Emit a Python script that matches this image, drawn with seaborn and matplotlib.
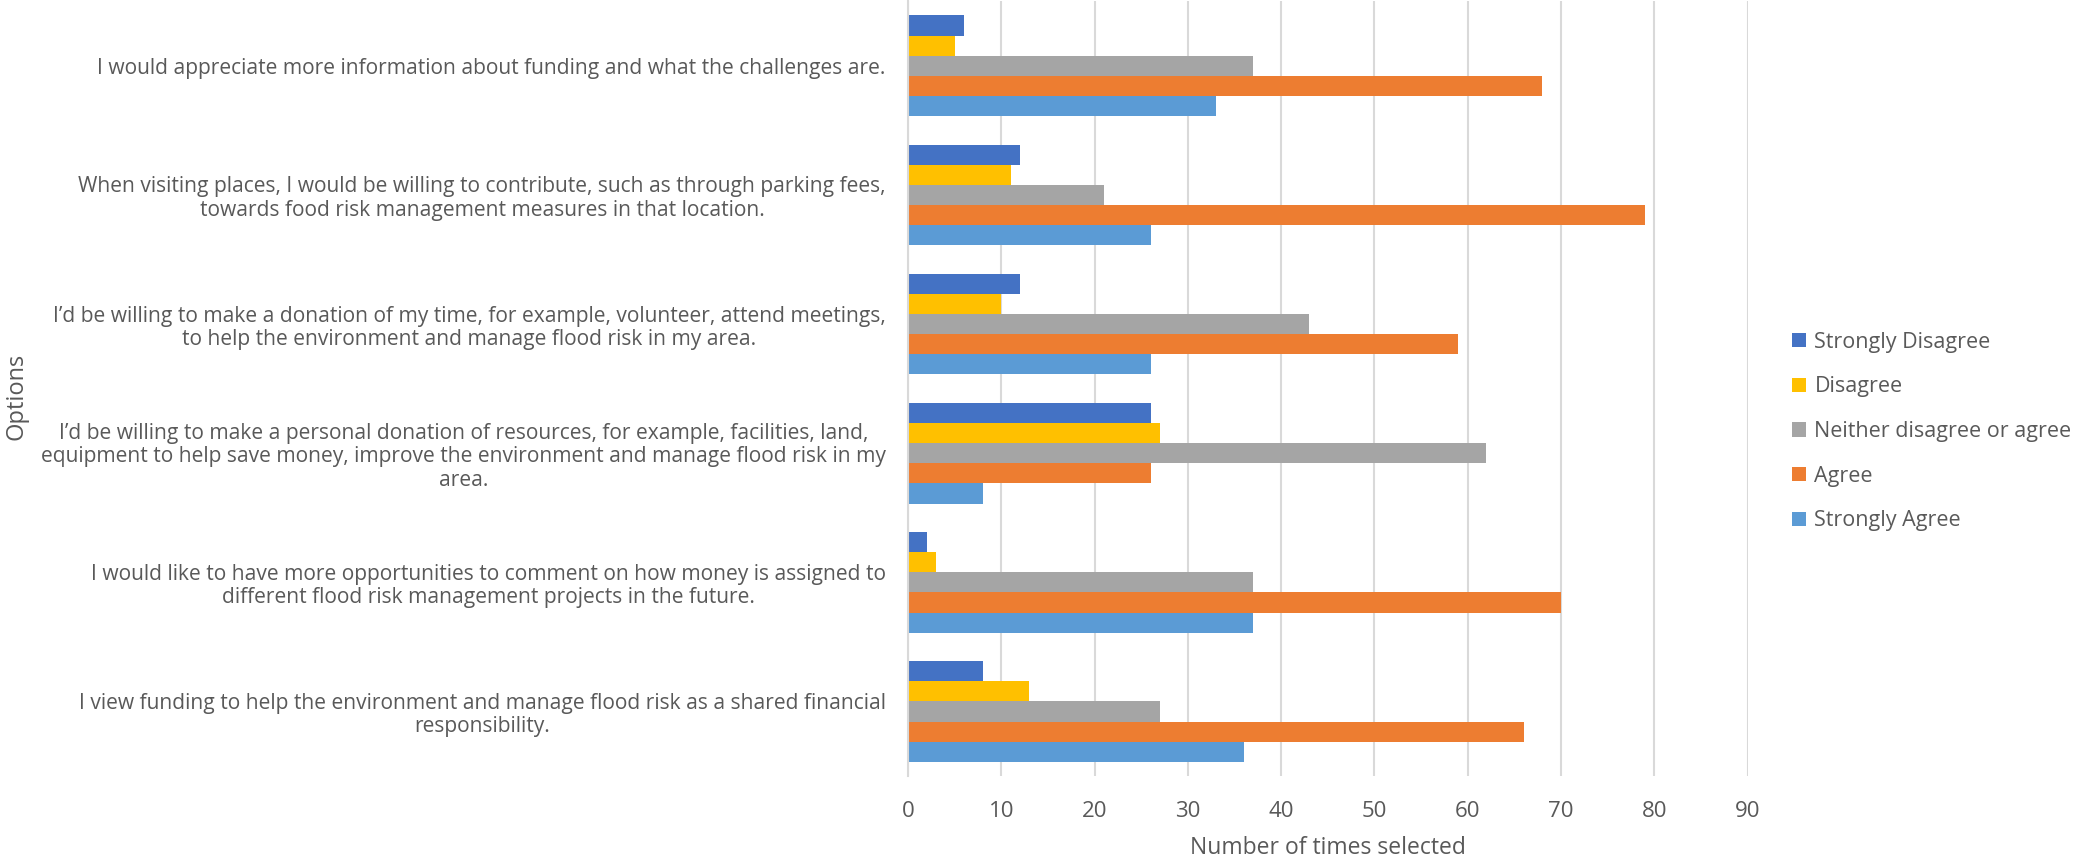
import pandas as pd
import matplotlib
matplotlib.use('Agg')
import matplotlib.pyplot as plt
import seaborn as sns

# Data
options = [
    "I would appreciate more information about funding and what the challenges are.",
    "When visiting places, I would be willing to contribute, such as through parking fees,\ntowards food risk management measures in that location.",
    "I\u2019d be willing to make a donation of my time, for example, volunteer, attend meetings,\nto help the environment and manage flood risk in my area.",
    "I\u2019d be willing to make a personal donation of resources, for example, facilities, land,\nequipment to help save money, improve the environment and manage flood risk in my\narea.",
    "I would like to have more opportunities to comment on how money is assigned to\ndifferent flood risk management projects in the future.",
    "I view funding to help the environment and manage flood risk as a shared financial\nresponsibility.",
]
responses = ["Strongly Disagree", "Disagree", "Neither disagree or agree", "Agree", "Strongly Agree"]

strongly_disagree = [6, 12, 12, 26, 2, 8]
disagree = [5, 11, 10, 27, 3, 13]
neither = [37, 21, 43, 62, 37, 27]
agree = [68, 79, 59, 26, 70, 66]
strongly_agree = [33, 26, 26, 8, 37, 36]

colors = ['#4472C4', '#FFC000', '#A5A5A5', '#ED7D31', '#5B9BD5']
TEXT = '#595959'

sns.set_theme(style="white")
plt.rcParams['font.family'] = ['Open Sans', 'DejaVu Sans']

df = pd.DataFrame({
    'option': options * 5,
    'response': [r for r in responses for _ in options],
    'count': strongly_disagree + disagree + neither + agree + strongly_agree,
})

fig = plt.figure(figsize=(20.73, 8.59), dpi=100)
ax = fig.add_axes([0.438, 0.0966, 0.405, 0.902])

sns.barplot(data=df, y='option', x='count', hue='response', order=options,
            hue_order=responses, palette=colors, orient='h', width=0.78,
            linewidth=0, saturation=1, ax=ax)

ax.set_xlim(0, 90)
ax.set_ylim(5.5, -0.5)
ax.set_xticks(range(0, 91, 10))
ax.xaxis.grid(True, color='#D9D9D9', linewidth=1.5)
ax.set_axisbelow(True)
for s in ['top', 'right', 'bottom']:
    ax.spines[s].set_visible(False)
ax.spines['left'].set_color('#D9D9D9')
ax.spines['left'].set_linewidth(1.5)
ax.tick_params(axis='both', length=0)
ax.tick_params(axis='x', pad=18, colors=TEXT, labelsize=16)
ax.tick_params(axis='y', pad=16, colors=TEXT, labelsize=15.15)

for t in ax.get_yticklabels():
    t.set_multialignment('center')
    t.set_linespacing(1.15)

ax.set_xlabel('Number of times selected', fontsize=16.5, color=TEXT, labelpad=10)
ax.set_ylabel('')
fig.text(0.008, 0.538, 'Options', rotation=90, ha='center', va='center', fontsize=17, color=TEXT)

handles, labels = ax.get_legend_handles_labels()
ax.get_legend().remove()
fig.legend(handles, labels, loc='center left', bbox_to_anchor=(0.855, 0.4976), frameon=False,
           fontsize=15.5, labelcolor=TEXT, handlelength=0.65, handleheight=0.65,
           handletextpad=0.4, labelspacing=1.1)

fig.savefig('out.png', dpi=100)
